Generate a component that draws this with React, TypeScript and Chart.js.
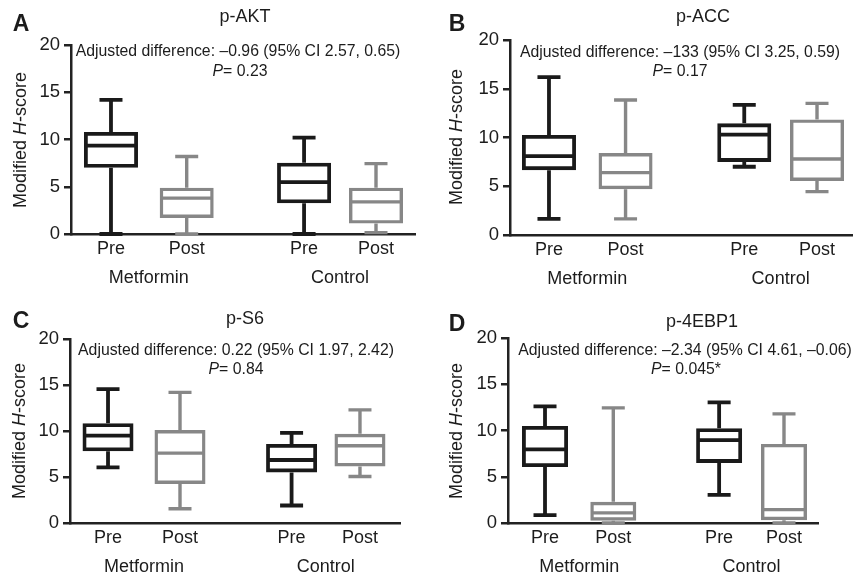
import React, { useEffect, useRef } from 'react';
import { Chart, registerables } from 'chart.js';
Chart.register(...registerables);

// ---- shared categories / ticks ----
const categories = ['Pre', 'Post', 'Pre', 'Post'];
const groups = ['Metformin', 'Control'];
const groupOf = [0, 0, 1, 1];
const xPositions = [1, 2, 3.55, 4.5];
const yTickValues = [0, 5, 10, 15, 20];
const seriesColors = ['#1a1a1a', '#878787', '#1a1a1a', '#878787'];
const seriesLineWidths = [3.8, 3.4, 3.8, 3.4];

// ---- p-AKT ----
const aktMin = [0, 0, 0, 0.15];
const aktQ1 = [7.0, 1.7, 3.25, 1.1];
const aktMedian = [9.35, 3.8, 5.5, 3.4];
const aktQ3 = [10.8, 4.9, 7.55, 4.9];
const aktMax = [14.2, 8.2, 10.2, 7.45];

// ---- p-ACC ----
const accMin = [1.65, 1.65, 7.0, 4.45];
const accQ1 = [6.65, 4.7, 7.5, 5.55];
const accMedian = [8.1, 6.4, 10.3, 7.8];
const accQ3 = [10.25, 8.4, 11.45, 11.85];
const accMax = [16.2, 13.85, 13.35, 13.5];

// ---- p-S6 ----
const s6Min = [6.05, 1.55, 1.9, 5.05];
const s6Q1 = [7.8, 4.25, 5.5, 6.15];
const s6Median = [9.5, 7.6, 6.85, 8.4];
const s6Q3 = [10.85, 10.1, 8.6, 9.7];
const s6Max = [14.55, 14.2, 9.8, 12.3];

// ---- p-4EBP1 ----
const ebpMin = [0.85, 0, 3.05, 0];
const ebpQ1 = [6.05, 0.25, 6.5, 0.3];
const ebpMedian = [7.95, 1.1, 8.95, 1.45];
const ebpQ3 = [10.5, 2.3, 10.25, 8.55];
const ebpMax = [12.6, 12.45, 13.05, 11.8];

const FONT = '"Liberation Sans", Arial, Helvetica, sans-serif';
const TEXT = '#1c1c1c';

type Seg = { t: string; italic?: boolean; bold?: boolean };

const panels = [
  {
    letter: 'A', title: 'p-AKT',
    diff: 'Adjusted difference: \u20130.96 (95% CI 2.57, 0.65)', pText: '= 0.23',
    min: aktMin, q1: aktQ1, med: aktMedian, q3: aktQ3, max: aktMax,
    box: { left: 0, top: 0, w: 430, h: 290 },
    area: { left: 71, top: 45, right: 415, bottom: 234 },
    xMin: 0.472, xMax: 5.015, boxW: 54,
    letterPos: [21, 25], titlePos: [245, 17], diffPos: [238, 52], pPos: [240, 72], yTitlePos: [21, 140],
  },
  {
    letter: 'B', title: 'p-ACC',
    diff: 'Adjusted difference: \u2013133 (95% CI 3.25, 0.59)', pText: '= 0.17',
    min: accMin, q1: accQ1, med: accMedian, q3: accQ3, max: accMax,
    box: { left: 430, top: 0, w: 423, h: 290 },
    area: { left: 80, top: 40, right: 423, bottom: 235 },
    xMin: 0.491, xMax: 4.97, boxW: 54,
    letterPos: [27, 25], titlePos: [273, 17], diffPos: [250, 53], pPos: [250, 72], yTitlePos: [27, 137],
  },
  {
    letter: 'C', title: 'p-S6',
    diff: 'Adjusted difference: 0.22 (95% CI 1.97, 2.42)', pText: '= 0.84',
    min: s6Min, q1: s6Q1, med: s6Median, q3: s6Q3, max: s6Max,
    box: { left: 0, top: 290, w: 430, h: 283 },
    area: { left: 70, top: 49, right: 400, bottom: 233 },
    xMin: 0.472, xMax: 5.056, boxW: 51,
    letterPos: [21, 32], titlePos: [245, 29], diffPos: [236, 61], pPos: [236, 80], yTitlePos: [20, 141],
  },
  {
    letter: 'D', title: 'p-4EBP1',
    diff: 'Adjusted difference: \u20132.34 (95% CI 4.61, \u20130.06)', pText: '= 0.045*',
    min: ebpMin, q1: ebpQ1, med: ebpMedian, q3: ebpQ3, max: ebpMax,
    box: { left: 430, top: 290, w: 423, h: 283 },
    area: { left: 78, top: 48, right: 388, bottom: 233 },
    xMin: 0.458, xMax: 4.998, boxW: 46,
    letterPos: [27, 35], titlePos: [272, 32], diffPos: [255, 61], pPos: [256, 80], yTitlePos: [27, 141],
  },
];

function fontStr(size: number, s: Seg) {
  return `${s.italic ? 'italic ' : ''}${s.bold ? 'bold ' : ''}${size}px ${FONT}`;
}

function drawRich(ctx: CanvasRenderingContext2D, segs: Seg[], cx: number, cy: number, size: number) {
  let total = 0;
  const widths = segs.map((s) => {
    ctx.font = fontStr(size, s);
    const w = ctx.measureText(s.t).width;
    total += w;
    return w;
  });
  let x = cx - total / 2;
  ctx.textAlign = 'left';
  ctx.textBaseline = 'middle';
  ctx.fillStyle = TEXT;
  segs.forEach((s, i) => {
    ctx.font = fontStr(size, s);
    ctx.fillText(s.t, x, cy);
    x += widths[i];
  });
}

// x tick values / labels built from categories and groups
const xTickValues: number[] = [];
const xTickLabels: (string | string[])[] = [];
categories.forEach((c, i) => {
  xTickValues.push(xPositions[i]);
  xTickLabels.push(c);
  if (i + 1 < categories.length && groupOf[i + 1] === groupOf[i]) {
    xTickValues.push((xPositions[i] + xPositions[i + 1]) / 2);
    xTickLabels.push(['', groups[groupOf[i]]]);
  }
});

function Panel({ p }: { p: (typeof panels)[number] }) {
  const ref = useRef<HTMLCanvasElement>(null);
  useEffect(() => {
    if (!ref.current) return;
    const CAP = 23;
    const extras = {
      id: 'boxExtras',
      afterDatasetsDraw(chart: any) {
        const { ctx, scales } = chart;
        const x = scales.x, y = scales.y;
        ctx.save();
        ctx.lineCap = 'butt';
        xPositions.forEach((xv, i) => {
          const cx = x.getPixelForValue(xv);
          ctx.strokeStyle = seriesColors[i];
          ctx.lineWidth = seriesLineWidths[i];
          const yMax = y.getPixelForValue(p.max[i]);
          const yQ3 = y.getPixelForValue(p.q3[i]);
          const yQ1 = y.getPixelForValue(p.q1[i]);
          const yMin = y.getPixelForValue(p.min[i]);
          const yMed = y.getPixelForValue(p.med[i]);
          ctx.beginPath();
          ctx.moveTo(cx, yMax); ctx.lineTo(cx, yQ3);
          ctx.moveTo(cx, yQ1); ctx.lineTo(cx, yMin);
          ctx.moveTo(cx - CAP / 2, yMax); ctx.lineTo(cx + CAP / 2, yMax);
          ctx.moveTo(cx - CAP / 2, yMin); ctx.lineTo(cx + CAP / 2, yMin);
          ctx.moveTo(cx - p.boxW / 2 + 1, yMed); ctx.lineTo(cx + p.boxW / 2 - 1, yMed);
          ctx.stroke();
        });
        ctx.restore();
      },
      afterDraw(chart: any) {
        const { ctx } = chart;
        ctx.save();
        drawRich(ctx, [{ t: p.letter, bold: true }], p.letterPos[0], p.letterPos[1], 23);
        drawRich(ctx, [{ t: p.title }], p.titlePos[0], p.titlePos[1], 18);
        drawRich(ctx, [{ t: p.diff }], p.diffPos[0], p.diffPos[1], 15.8);
        drawRich(ctx, [{ t: 'P', italic: true }, { t: p.pText }], p.pPos[0], p.pPos[1], 15.8);
        ctx.translate(p.yTitlePos[0], p.yTitlePos[1]);
        ctx.rotate(-Math.PI / 2);
        drawRich(ctx, [{ t: 'Modified ' }, { t: 'H', italic: true }, { t: '-score' }], 0, 0, 18);
        ctx.restore();
      },
    };
    const chart = new Chart(ref.current, {
      type: 'bar',
      data: {
        datasets: [
          {
            data: xPositions.map((xv, i) => ({ x: xv, y: [p.q1[i], p.q3[i]] })) as any,
            backgroundColor: 'rgba(255,255,255,0)',
            borderColor: seriesColors,
            borderWidth: seriesLineWidths,
            borderSkipped: false,
            barThickness: p.boxW,
            inflateAmount: 0,
          } as any,
        ],
      },
      options: {
        animation: false,
        responsive: false,
        events: [],
        layout: {
          padding: {
            left: 0,
            top: p.area.top,
            right: p.box.w - p.area.right,
            bottom: 0,
          },
        },
        plugins: { legend: { display: false }, tooltip: { enabled: false }, title: { display: false } },
        scales: {
          x: {
            type: 'linear',
            min: p.xMin,
            max: p.xMax,
            offset: false,
            grid: { display: false, drawTicks: false },
            border: { display: true, color: '#222', width: 2.5 },
            afterBuildTicks: (s: any) => {
              s.ticks = xTickValues.map((v) => ({ value: v }));
            },
            afterFit: (s: any) => {
              s.height = p.box.h - p.area.bottom;
            },
            ticks: {
              autoSkip: false,
              maxRotation: 0,
              minRotation: 0,
              padding: 1,
              color: TEXT,
              font: { family: FONT, size: 18, lineHeight: 1.6 },
              callback: (_v: any, i: number) => xTickLabels[i],
            },
          } as any,
          y: {
            type: 'linear',
            min: 0,
            max: 20,
            grid: { display: true, drawOnChartArea: false, drawTicks: true, tickLength: 7, color: '#222', lineWidth: 2.5 },
            border: { display: true, color: '#222', width: 2.5 },
            afterBuildTicks: (s: any) => {
              s.ticks = yTickValues.map((v) => ({ value: v }));
            },
            afterFit: (s: any) => {
              s.width = p.area.left;
            },
            ticks: {
              padding: 4,
              color: TEXT,
              font: { family: FONT, size: 18.5 },
            },
          } as any,
        },
      },
      plugins: [extras],
    });
    return () => chart.destroy();
  }, []);
  return (
    <canvas
      ref={ref}
      width={p.box.w}
      height={p.box.h}
      style={{ position: 'absolute', left: p.box.left, top: p.box.top, width: p.box.w, height: p.box.h }}
    />
  );
}

export default function App() {
  return (
    <div style={{ position: 'absolute', left: 0, top: 0, width: 853, height: 573, background: '#fff', overflow: 'hidden' }}>
      {panels.map((p) => (
        <Panel key={p.letter} p={p} />
      ))}
    </div>
  );
}
